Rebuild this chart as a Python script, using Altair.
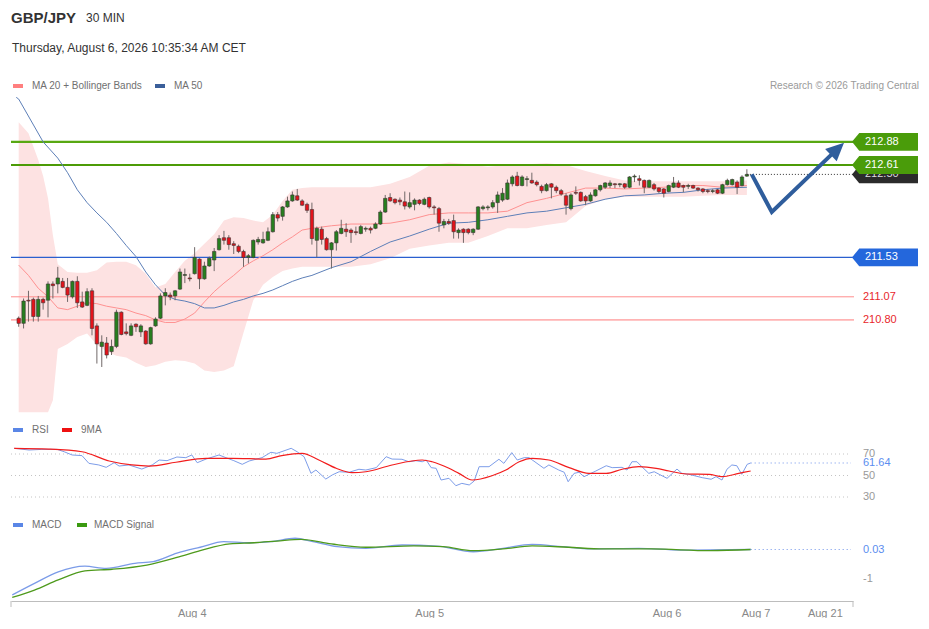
import altair as alt
import pandas as pd

FONT = "Liberation Sans"

# ---------------- candles (30 min bars, index 0..149) ----------------
opens = [
    210.82, 210.76, 211.03, 211.04, 210.84, 211.04, 211.03, 211.22, 211.22, 211.25,
    211.18, 211.07, 211.25, 211.01, 210.97, 211.14, 210.73, 210.49, 210.53, 210.43,
    210.49, 210.89, 210.66, 210.62, 210.75, 210.66, 210.67, 210.52, 210.73, 210.82,
    211.08, 211.09, 211.08, 211.16, 211.32, 211.29, 211.34, 211.51, 211.28, 211.43,
    211.50, 211.62, 211.76, 211.76, 211.69, 211.66, 211.60, 211.53, 211.53, 211.71,
    211.70, 211.73, 211.83, 212.03, 212.01, 212.12, 212.19, 212.25, 212.19, 212.15,
    212.09, 211.73, 211.86, 211.75, 211.62, 211.70, 211.81, 211.86, 211.85, 211.83,
    211.81, 211.86, 211.87, 211.87, 211.92, 212.06, 212.23, 212.21, 212.20, 212.18,
    212.12, 212.15, 212.20, 212.15, 212.23, 212.12, 212.10, 211.91, 211.95, 211.96,
    211.82, 211.86, 211.86, 211.82, 211.86, 212.10, 212.11, 212.12, 212.17, 212.20,
    212.21, 212.39, 212.48, 212.37, 212.44, 212.43, 212.41, 212.36, 212.31, 212.39,
    212.35, 212.31, 212.25, 212.10, 212.29, 212.29, 212.24, 212.19, 212.25, 212.32,
    212.35, 212.37, 212.39, 212.38, 212.39, 212.35, 212.47, 212.45, 212.43, 212.35,
    212.38, 212.34, 212.33, 212.30, 212.35, 212.40, 212.37, 212.36, 212.37, 212.34,
    212.33, 212.31, 212.30, 212.32, 212.28, 212.38, 212.38, 212.41, 212.37, 212.48,
]
highs = [
    210.84, 211.05, 211.14, 211.06, 211.08, 211.06, 211.25, 211.25, 211.42, 211.29,
    211.29, 211.26, 211.31, 211.13, 211.17, 211.17, 210.76, 210.62, 210.60, 210.57,
    210.92, 210.90, 210.76, 210.76, 210.76, 210.75, 210.68, 210.72, 210.83, 211.11,
    211.17, 211.12, 211.15, 211.40, 211.40, 211.34, 211.65, 211.52, 211.48, 211.54,
    211.64, 211.79, 211.84, 211.79, 211.72, 211.68, 211.62, 211.57, 211.74, 211.77,
    211.83, 211.88, 212.06, 212.06, 212.13, 212.24, 212.30, 212.33, 212.21, 212.17,
    212.17, 211.89, 211.89, 211.77, 211.71, 211.85, 211.97, 211.93, 211.87, 211.89,
    211.91, 211.89, 211.89, 211.94, 212.08, 212.26, 212.28, 212.22, 212.23, 212.30,
    212.29, 212.22, 212.21, 212.23, 212.24, 212.14, 212.12, 211.98, 211.98, 212.03,
    211.87, 211.87, 211.87, 211.87, 212.13, 212.14, 212.14, 212.20, 212.30, 212.34,
    212.44, 212.49, 212.53, 212.49, 212.48, 212.52, 212.43, 212.38, 212.40, 212.40,
    212.37, 212.33, 212.28, 212.28, 212.36, 212.30, 212.26, 212.29, 212.33, 212.38,
    212.41, 212.43, 212.40, 212.40, 212.40, 212.48, 212.50, 212.49, 212.44, 212.44,
    212.40, 212.35, 212.34, 212.38, 212.47, 212.43, 212.38, 212.39, 212.38, 212.35,
    212.34, 212.33, 212.33, 212.33, 212.39, 212.45, 212.45, 212.43, 212.49, 212.56,
]
lows = [
    210.72, 210.70, 210.78, 210.78, 210.78, 210.92, 210.83, 211.05, 211.11, 211.17,
    211.01, 211.05, 210.94, 210.94, 210.96, 210.62, 210.29, 210.25, 210.35, 210.39,
    210.47, 210.62, 210.62, 210.61, 210.66, 210.60, 210.51, 210.51, 210.72, 210.81,
    210.97, 211.03, 211.03, 211.15, 211.23, 211.25, 211.33, 211.16, 211.27, 211.42,
    211.37, 211.61, 211.68, 211.62, 211.57, 211.58, 211.42, 211.46, 211.52, 211.68,
    211.69, 211.72, 211.82, 211.95, 211.96, 212.11, 212.18, 212.19, 212.13, 212.05,
    211.68, 211.53, 211.68, 211.61, 211.40, 211.61, 211.80, 211.77, 211.70, 211.79,
    211.80, 211.83, 211.81, 211.86, 211.91, 212.05, 212.18, 212.15, 212.14, 212.09,
    212.10, 212.08, 212.14, 212.14, 212.10, 212.03, 211.83, 211.87, 211.91, 211.75,
    211.75, 211.70, 211.80, 211.79, 211.85, 212.08, 212.08, 212.10, 212.05, 212.18,
    212.20, 212.36, 212.36, 212.36, 212.36, 212.39, 212.36, 212.28, 212.30, 212.22,
    212.28, 212.25, 212.03, 212.08, 212.26, 212.18, 212.14, 212.18, 212.24, 212.30,
    212.33, 212.34, 212.34, 212.35, 212.33, 212.34, 212.41, 212.37, 212.28, 212.34,
    212.31, 212.28, 212.23, 212.29, 212.34, 212.34, 212.29, 212.33, 212.33, 212.30,
    212.28, 212.28, 212.28, 212.27, 212.27, 212.37, 212.37, 212.27, 212.36, 212.47,
]
closes = [
    210.76, 211.02, 211.02, 210.84, 211.04, 211.00, 211.22, 211.20, 211.29, 211.18,
    211.09, 211.25, 211.00, 210.95, 211.13, 210.70, 210.52, 210.54, 210.39, 210.49,
    210.89, 210.63, 210.64, 210.73, 210.72, 210.73, 210.52, 210.71, 210.81, 211.08,
    211.12, 211.07, 211.14, 211.36, 211.33, 211.28, 211.53, 211.28, 211.43, 211.52,
    211.60, 211.75, 211.73, 211.68, 211.67, 211.60, 211.53, 211.55, 211.73, 211.74,
    211.74, 211.83, 212.03, 211.99, 212.12, 212.19, 212.26, 212.20, 212.14, 212.08,
    211.75, 211.87, 211.74, 211.62, 211.70, 211.83, 211.87, 211.83, 211.82, 211.82,
    211.89, 211.87, 211.85, 211.92, 212.06, 212.22, 212.19, 212.17, 212.18, 212.13,
    212.17, 212.20, 212.16, 212.21, 212.12, 212.11, 211.93, 211.95, 211.93, 211.83,
    211.85, 211.82, 211.82, 211.86, 212.12, 212.12, 212.12, 212.17, 212.26, 212.28,
    212.40, 212.47, 212.37, 212.47, 212.45, 212.40, 212.38, 212.31, 212.38, 212.35,
    212.31, 212.27, 212.14, 212.26, 212.28, 212.19, 212.19, 212.26, 212.32, 212.37,
    212.40, 212.40, 212.38, 212.39, 212.35, 212.47, 212.48, 212.43, 212.35, 212.43,
    212.33, 212.30, 212.28, 212.37, 212.40, 212.35, 212.35, 212.37, 212.34, 212.32,
    212.30, 212.30, 212.31, 212.28, 212.38, 212.43, 212.44, 212.35, 212.47, 212.50,
]

# ---------------- Bollinger bands (MA20 +/- 2 sd) ----------------
band_idx = [0, 2, 4, 5, 6, 7, 8, 10, 12, 14, 16, 18, 20, 22, 24, 26, 28, 30, 32, 34,
            36, 38, 40, 42, 44, 46, 48, 50, 52, 54, 56, 58, 60, 64, 68, 72, 76, 80, 84, 88,
            92, 96, 100, 104, 108, 112, 116, 120, 124, 128, 132, 136, 140, 144, 149]
band_upper = [213.11, 212.98, 212.67, 212.48, 212.22, 211.79, 211.45, 211.36, 211.35, 211.35,
              211.38, 211.47, 211.48, 211.48, 211.44, 211.34, 211.18, 211.22, 211.36, 211.49,
              211.58, 211.69, 211.80, 211.96, 212.00, 211.99, 211.96, 211.94, 212.03, 212.19,
              212.32, 212.34, 212.35, 212.35, 212.35, 212.35, 212.39, 212.47, 212.60, 212.64,
              212.62, 212.59, 212.61, 212.62, 212.63, 212.61, 212.54, 212.48, 212.43, 212.42,
              212.42, 212.42, 212.42, 212.42, 212.43]
band_lower = [209.72, 209.72, 209.72, 209.72, 209.72, 209.86, 210.46, 210.52, 210.60, 210.64,
              210.51, 210.43, 210.38, 210.36, 210.30, 210.25, 210.27, 210.31, 210.33, 210.32,
              210.29, 210.21, 210.19, 210.21, 210.26, 210.65, 211.03, 211.21, 211.30, 211.37,
              211.40, 211.42, 211.42, 211.42, 211.42, 211.45, 211.52, 211.63, 211.67, 211.70,
              211.70, 211.78, 211.87, 211.87, 211.91, 211.94, 212.13, 212.21, 212.24, 212.24,
              212.24, 212.24, 212.25, 212.26, 212.26]

ma20_idx = [0, 2, 4, 6, 8, 10, 12, 14, 16, 18, 20, 22, 24, 26, 28, 30, 32, 34, 36, 38,
            40, 42, 44, 46, 48, 50, 52, 54, 56, 58, 60, 64, 68, 72, 76, 80, 84, 88, 92, 96,
            100, 104, 108, 112, 116, 120, 124, 128, 132, 136, 140, 144, 149]
ma20 = [211.44, 211.32, 211.17, 211.07, 210.94, 210.92, 210.96, 211.00, 210.99, 210.96,
        210.94, 210.92, 210.88, 210.85, 210.80, 210.77, 210.77, 210.81, 210.88, 211.01,
        211.13, 211.23, 211.32, 211.42, 211.49, 211.55, 211.62, 211.70, 211.77, 211.85,
        211.87, 211.90, 211.92, 211.92, 211.93, 211.97, 212.03, 212.05, 212.05, 212.05,
        212.07, 212.17, 212.22, 212.28, 212.34, 212.34, 212.33, 212.34, 212.35, 212.37,
        212.37, 212.35, 212.37]

ma50_idx = [-0.5, 0, 5, 8, 10, 12, 14, 16, 18, 20, 22, 24, 26, 28, 30, 32, 34, 36, 38, 40,
            42, 44, 46, 48, 50, 52, 54, 56, 58, 60, 64, 68, 72, 76, 80, 84, 88, 92, 96, 100,
            104, 108, 112, 116, 120, 124, 128, 132, 136, 140, 144, 149]
ma50 = [213.40, 213.38, 212.88, 212.69, 212.52, 212.32, 212.17, 212.05, 211.94, 211.81,
        211.67, 211.54, 211.36, 211.21, 211.09, 211.04, 211.02, 210.99, 210.94, 210.94,
        210.97, 211.01, 211.04, 211.08, 211.11, 211.15, 211.20, 211.25, 211.29, 211.32,
        211.41, 211.48, 211.60, 211.71, 211.78, 211.86, 211.93, 211.94, 211.97, 212.01,
        212.05, 212.07, 212.11, 212.15, 212.21, 212.25, 212.26, 212.28, 212.29, 212.32,
        212.34, 212.35]

# ---------------- levels / forecast ----------------
level_prices = [212.88, 212.61, 211.53, 211.07, 210.80]
current_price = 212.50
last_idx = 149
tag_prices = [212.50, 212.88, 212.61, 211.53]
tag_texts = ["212.50", "212.88", "212.61", "211.53"]
red_prices = [211.07, 210.80]
red_texts = ["211.07", "210.80"]
forecast_idx = [150.0, 154.1, 167.2]
forecast_price = [212.50, 212.06, 212.78]

# ---------------- RSI ----------------
rsi_idx = [0.1, 3.1, 5.7, 8.8, 10.2, 11.8, 13.8, 15.2, 17.2, 18.7,
           20.3, 21.3, 23.3, 25.9, 28.0, 29.4, 31.0, 33.0, 34.8, 36.0,
           37.1, 38.9, 41.5, 42.9, 44.5, 46.2, 47.6, 50.2, 52.0, 53.2,
           56.1, 57.3, 58.7, 60.1, 61.1, 63.1, 64.4, 65.8, 67.8, 69.8,
           71.2, 73.3, 75.3, 76.5, 78.5, 79.9, 81.3, 82.6, 83.4, 84.4,
           85.4, 86.4, 88.0, 89.4, 90.6, 92.1, 93.1, 94.1, 96.1, 98.1,
           99.1, 100.7, 101.8, 103.2, 104.2, 105.8, 107.2, 108.2, 110.2, 111.3,
           112.1, 113.3, 114.3, 115.3, 116.3, 117.7, 119.8, 121.0, 123.0, 124.0,
           125.0, 126.0, 127.0, 128.4, 129.5, 130.5, 132.1, 134.1, 135.1, 136.5,
           139.2, 141.0, 142.0, 143.2, 144.2, 145.2, 146.2, 147.2, 148.3, 149.0]
rsi_vals = [75.3, 73.7, 74.3, 74.3, 72.1, 69.1, 68.5, 61.3, 59.8, 57.6,
            61.9, 58.8, 59.8, 56.0, 59.8, 64.4, 63.8, 67.2, 66.6, 69.1,
            61.9, 65.3, 69.1, 66.6, 63.8, 60.4, 63.5, 66.6, 71.6, 70.6,
            75.3, 72.1, 67.5, 52.0, 55.1, 46.7, 50.5, 53.5, 53.0, 55.8,
            55.1, 57.3, 67.5, 65.3, 65.1, 62.8, 63.8, 62.8, 64.4, 57.3,
            56.7, 45.8, 47.4, 40.5, 42.7, 41.2, 44.9, 58.2, 58.2, 65.1,
            61.3, 71.3, 64.4, 66.6, 66.6, 61.3, 56.7, 59.8, 55.1, 53.0,
            44.2, 52.0, 53.0, 48.9, 51.1, 54.2, 59.1, 57.3, 57.6, 55.1,
            62.8, 62.8, 58.2, 52.0, 53.5, 51.1, 47.4, 56.0, 52.0, 51.1,
            48.0, 46.5, 48.9, 45.8, 55.8, 59.8, 59.1, 51.1, 60.4, 61.64]
rsi_ma_idx = [0.1, 7.1, 13.8, 19.3, 23.9, 27.4, 32.8, 38.9, 44.1, 51.0,
              54.2, 58.3, 61.7, 65.2, 68.4, 71.2, 76.5, 82.6, 84.6, 88.0,
              90.0, 92.7, 96.7, 99.5, 102.2, 104.8, 108.2, 112.3, 116.3, 119.8,
              123.0, 126.4, 129.9, 132.5, 136.0, 140.6, 143.2, 146.6, 149.0]
rsi_ma_vals = [75.3, 74.6, 72.1, 63.5, 59.8, 58.8, 62.3, 66.0, 66.0, 65.3,
               68.5, 70.6, 64.4, 56.7, 52.6, 53.5, 59.8, 64.4, 62.8, 56.7,
               52.0, 45.8, 49.8, 55.1, 62.8, 66.0, 64.4, 57.3, 52.0, 52.0,
               55.8, 58.2, 56.7, 54.2, 51.4, 51.1, 48.9, 52.0, 54.2]
rsi_levels = [70, 50, 30]
rsi_level_texts = ["70", "50", "30"]
rsi_last = 61.64
rsi_last_text = "61.64"

# ---------------- MACD ----------------
macd_idx = [-0.3, 4.2, 9.0, 14.4, 18.7, 24.5, 28.2, 33.0, 37.7, 42.5,
            47.4, 52.0, 56.9, 60.5, 65.4, 71.2, 78.5, 85.6, 92.9, 98.9,
            104.8, 110.9, 116.7, 126.4, 134.7, 149.0]
macd_vals = [-1.58, -1.17, -0.76, -0.56, -0.64, -0.46, -0.40, -0.10, 0.11, 0.31,
             0.27, 0.31, 0.43, 0.31, 0.13, 0.07, 0.19, 0.15, -0.05, 0.07,
             0.21, 0.13, 0.05, 0.07, 0.01, 0.03]
sig_idx = [-0.3, 4.2, 9.0, 14.4, 19.9, 26.9, 33.0, 37.7, 43.7, 48.6,
           53.2, 58.1, 64.2, 71.2, 80.9, 86.8, 92.9, 98.9, 104.8, 112.1,
           119.2, 128.9, 140.8, 149.0]
sig_vals = [-1.67, -1.41, -1.05, -0.73, -0.67, -0.52, -0.25, -0.01, 0.23, 0.27,
            0.33, 0.39, 0.23, 0.11, 0.16, 0.13, -0.01, 0.05, 0.16, 0.11,
            0.05, 0.05, -0.01, 0.03]
macd_last = 0.03
macd_tick_vals = [0.03, -1]
macd_tick_texts = ["0.03", "-1"]

# ---------------- x axis ----------------
tick_idx = [36, 84, 132, 150, 164]
tick_labels = ["Aug 4", "Aug 5", "Aug 6", "Aug 7", "Aug 21"]

# ================= layout / styles =================
W = 842
H1, H2, H3 = 410, 92, 91
XR = 843  # right end of level lines (px)

xs = alt.Scale(domain=[-0.55, 169.69], nice=False, zero=False)
ys1 = alt.Scale(domain=[209.654, 214.444], nice=False, zero=False)
ys2 = alt.Scale(domain=[17.91, 103.49], nice=False, zero=False)
ys3 = alt.Scale(domain=[-1.796, 1.431], nice=False, zero=False)

GREEN_C = "#277f1f"
RED_C = "#e3131b"
WICK = "#716868"
ARROW = "#2f5d9c"


def X(field="i"):
    return alt.X(f"{field}:Q", scale=xs, axis=None)


def Y(field, scale):
    return alt.Y(f"{field}:Q", scale=scale, axis=None)


def txt(t, x, y, size=10, color="#707070", weight="normal", align="left"):
    return alt.Chart(pd.DataFrame({"t": [t]})).mark_text(
        align=align, baseline="middle", font=FONT, fontSize=size,
        fontWeight=weight, color=color
    ).encode(text="t:N", x=alt.value(x), y=alt.value(y))


def swatch(x0, x1, y0, y1, color):
    return alt.Chart(pd.DataFrame({"k": [0]})).mark_rect(color=color).encode(
        x=alt.value(x0), x2=alt.value(x1), y=alt.value(y0), y2=alt.value(y1))


# ---------------- main panel ----------------
cdf = pd.DataFrame({"i": list(range(len(closes))), "o": opens, "h": highs,
                    "l": lows, "c": closes})
cdf["d"] = ["up" if c >= o else "down" for o, c in zip(opens, closes)]

band = alt.Chart(pd.DataFrame({"i": band_idx, "up": band_upper, "lo": band_lower})).mark_area(
    color="#fde2e2", opacity=1).encode(x=X(), y=Y("up", ys1), y2="lo:Q")

level_colors = ["#58a812", "#4c9b06", "#2a5fcf", "#ff8e8e", "#ffb3b3"]
level_widths = [2.2, 2.0, 1.1, 1.0, 1.8]
levels = [
    alt.Chart(pd.DataFrame({"p": [p]})).mark_rule(color=c, strokeWidth=w).encode(
        x=alt.value(0), x2=alt.value(XR), y=Y("p", ys1))
    for p, c, w in zip(level_prices, level_colors, level_widths)
]

ma20_line = alt.Chart(pd.DataFrame({"i": ma20_idx, "v": ma20})).mark_line(
    color="#ff9191", strokeWidth=1).encode(x=X(), y=Y("v", ys1))
ma50_line = alt.Chart(pd.DataFrame({"i": ma50_idx, "v": ma50})).mark_line(
    color="#5d7fb8", strokeWidth=1).encode(x=X(), y=Y("v", ys1))

wicks = alt.Chart(cdf).mark_rule(color=WICK, strokeWidth=1).encode(
    x=X(), y=Y("l", ys1), y2="h:Q")
bodies = alt.Chart(cdf).mark_bar(size=3.4, stroke="#3d3232", strokeWidth=0.6).encode(
    x=X(), y=Y("o", ys1), y2="c:Q",
    color=alt.Color("d:N", scale=alt.Scale(domain=["up", "down"], range=[GREEN_C, RED_C]),
                    legend=None))

cur = alt.Chart(pd.DataFrame({"i": [last_idx], "p": [current_price]})).mark_rule(
    color="#333333", strokeDash=[1, 2], strokeWidth=1).encode(
    x=X(), x2=alt.value(XR), y=Y("p", ys1))

arrow_line = alt.Chart(pd.DataFrame({"i": forecast_idx, "p": forecast_price})).mark_line(
    color=ARROW, strokeWidth=4, strokeJoin="miter").encode(x=X(), y=Y("p", ys1))
HEAD = "M0,-1 L0.75,0.6 L-0.75,0.6 Z"
arrow_head = alt.Chart(pd.DataFrame({"i": [forecast_idx[-1]], "p": [forecast_price[-1]]})).mark_point(
    shape=HEAD, size=506, angle=46.7, filled=True, color=ARROW, opacity=1).encode(
    x=X(), y=Y("p", ys1))

TAG = "M-1,0 L-0.78,-0.27 L1,-0.27 L1,0.27 L-0.78,0.27 Z"
tag_colors = ["#2b2b2b", "#4a9c0a", "#4a9c0a", "#2467dc"]
tag_text_colors = ["#dddddd", "#ffffff", "#ffffff", "#ffffff"]
tags = []
for p, t, c, tc in zip(tag_prices, tag_texts, tag_colors, tag_text_colors):
    d = pd.DataFrame({"p": [p], "t": [t]})
    tags.append(alt.Chart(d).mark_point(shape=TAG, size=4356, filled=True, color=c,
                                        opacity=1).encode(x=alt.value(874), y=Y("p", ys1)))
    tags.append(alt.Chart(d).mark_text(align="left", baseline="middle", font=FONT,
                                       fontSize=11, color=tc).encode(
        x=alt.value(854), y=Y("p", ys1), text="t:N"))

red_labels = alt.Chart(pd.DataFrame({"p": red_prices, "t": red_texts})).mark_text(
    align="left", baseline="middle", font=FONT, fontSize=11, color="#e8262b").encode(
    x=alt.value(852), y=Y("p", ys1), text="t:N")

header = [
    txt("GBP/JPY", 0, 10, size=15, color="#333333", weight="bold"),
    txt("30 MIN", 75, 10, size=12, color="#333333"),
    txt("Thursday, August 6, 2026 10:35:34 AM CET", 1, 40, size=12, color="#333333"),
    swatch(2, 12, 76, 80, "#ff7f7f"),
    txt("MA 20 + Bollinger Bands", 21, 78),
    swatch(144, 154, 76, 80, "#3b5f9a"),
    txt("MA 50", 163, 78),
    txt("Research \u00a9 2026 Trading Central", 908, 78, color="#9a9a9a", align="right"),
]

p1 = alt.layer(band, *levels, ma20_line, ma50_line, wicks, bodies, cur,
               arrow_line, arrow_head, *tags, red_labels, *header).properties(
    width=W, height=H1)

# ---------------- RSI panel ----------------
rsi_grid = alt.Chart(pd.DataFrame({"v": rsi_levels})).mark_rule(
    color="#c4c4c4", strokeDash=[1, 3]).encode(
    x=alt.value(0), x2=alt.value(840), y=Y("v", ys2))
rsi_line = alt.Chart(pd.DataFrame({"i": rsi_idx, "v": rsi_vals})).mark_line(
    color="#7d9de9", strokeWidth=1).encode(x=X(), y=Y("v", ys2))
rsi_ma_line = alt.Chart(pd.DataFrame({"i": rsi_ma_idx, "v": rsi_ma_vals})).mark_line(
    color="#f21d1d", strokeWidth=1.2, interpolate="monotone").encode(x=X(), y=Y("v", ys2))
rsi_ext = alt.Chart(pd.DataFrame({"i": [last_idx], "v": [rsi_last]})).mark_rule(
    color="#6f93ea", strokeDash=[1, 3], strokeWidth=1.2).encode(
    x=X(), x2=alt.value(840), y=Y("v", ys2))
rsi_lbl = alt.Chart(pd.DataFrame({"v": rsi_levels, "t": rsi_level_texts})).mark_text(
    align="left", baseline="middle", font=FONT, fontSize=11, color="#999999").encode(
    x=alt.value(852), y=Y("v", ys2), text="t:N")
rsi_last_lbl = alt.Chart(pd.DataFrame({"v": [rsi_last], "t": [rsi_last_text]})).mark_text(
    align="left", baseline="middle", font=FONT, fontSize=11, color="#5b8def").encode(
    x=alt.value(852), y=Y("v", ys2), text="t:N")
rsi_leg = [
    swatch(2, 12, 10, 14, "#5a86e6"), txt("RSI", 21, 12),
    swatch(51, 61, 10, 14, "#ee1111"), txt("9MA", 70, 12),
]
p2 = alt.layer(rsi_grid, rsi_line, rsi_ma_line, rsi_ext, rsi_lbl, rsi_last_lbl,
               *rsi_leg).properties(width=W, height=H2)

# ---------------- MACD panel ----------------
expr = "''"
for v, t in reversed(list(zip(tick_idx, tick_labels))):
    expr = f"datum.value == {v} ? '{t}' : {expr}"
xaxis = alt.Axis(values=tick_idx, labelExpr=expr, grid=False, ticks=False, tickSize=0,
                 domain=True, domainColor="#bdbdbd", domainWidth=1,
                 labelColor="#888888", labelFont=FONT, labelFontSize=11,
                 labelPadding=6, title=None, labelFlush=False, labelOverlap=False)
XA = alt.X("i:Q", scale=xs, axis=xaxis)

macd_line = alt.Chart(pd.DataFrame({"i": macd_idx, "v": macd_vals})).mark_line(
    color="#7b9be8", strokeWidth=1.3, interpolate="monotone").encode(x=XA, y=Y("v", ys3))
sig_line = alt.Chart(pd.DataFrame({"i": sig_idx, "v": sig_vals})).mark_line(
    color="#4e9a1c", strokeWidth=1.3, interpolate="monotone").encode(x=XA, y=Y("v", ys3))
macd_ext = alt.Chart(pd.DataFrame({"i": [last_idx], "v": [macd_last]})).mark_rule(
    color="#6f93ea", strokeDash=[1, 3], strokeWidth=1.2).encode(
    x=XA, x2=alt.value(840), y=Y("v", ys3))
macd_lbl = alt.Chart(pd.DataFrame({"v": macd_tick_vals, "t": macd_tick_texts,
                                   "k": ["last", "tick"]})).mark_text(
    align="left", baseline="middle", font=FONT, fontSize=11).encode(
    x=alt.value(852), y=Y("v", ys3), text="t:N",
    color=alt.Color("k:N", scale=alt.Scale(domain=["last", "tick"],
                                           range=["#5b8def", "#999999"]), legend=None))
end_ticks = [
    alt.Chart(pd.DataFrame({"k": [0]})).mark_rule(color="#bdbdbd").encode(
        x=alt.value(xv), y=alt.value(H3), y2=alt.value(H3 + 6))
    for xv in (0, W)
]
macd_leg = [
    swatch(2, 12, 13, 17, "#5a86e6"), txt("MACD", 21, 15),
    swatch(66, 76, 13, 17, "#3a9a10"), txt("MACD Signal", 83, 15),
]
p3 = alt.layer(macd_line, sig_line, macd_ext, macd_lbl, *end_ticks, *macd_leg).properties(
    width=W, height=H3)

chart = alt.vconcat(p1, p2, p3, spacing=0).resolve_scale(
    y="independent", color="independent").properties(
    padding={"left": 1, "top": 0, "right": 0, "bottom": 0}).configure_view(strokeWidth=0)

chart.save("out.html", embed_options={"renderer": "svg", "actions": False})
